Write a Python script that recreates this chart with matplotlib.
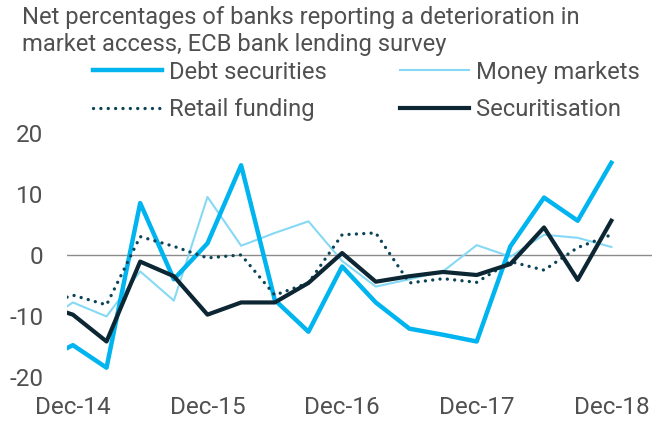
import matplotlib
matplotlib.use("Agg")
import matplotlib.pyplot as plt
import numpy as np

# Quarterly survey results, Sep-14 .. Dec-18 (net %)
quarters = ["Sep-14", "Dec-14", "Mar-15", "Jun-15", "Sep-15", "Dec-15", "Mar-16", "Jun-16", "Sep-16",
            "Dec-16", "Mar-17", "Jun-17", "Sep-17", "Dec-17", "Mar-18", "Jun-18", "Sep-18", "Dec-18"]
debt_securities = [-17.6, -14.8, -18.5, 8.5, -4.0, 1.9, 14.7, -7.4, -12.6,
                   -1.9, -7.8, -12.1, -13.1, -14.2, 1.4, 9.4, 5.6, 15.1]
money_markets = [-11.5, -7.8, -10.1, -2.7, -7.5, 9.5, 1.5, 3.6, 5.5,
                 -1.0, -5.2, -4.0, -2.7, 1.6, -0.3, 3.3, 2.8, 1.3]
retail_funding = [-8.5, -6.6, -8.2, 3.0, 1.4, -0.5, 0.0, -6.6, -4.6,
                  3.3, 3.6, -4.6, -3.9, -4.5, -1.1, -2.5, 1.2, 3.3]
securitisation = [-8.0, -9.8, -14.2, -1.1, -3.5, -9.8, -7.8, -7.8, -4.6,
                  0.3, -4.4, -3.5, -2.8, -3.3, -1.5, 4.5, -4.1, 5.6]
tick_labels = ["Dec-14", "Dec-15", "Dec-16", "Dec-17", "Dec-18"]

plt.rcParams['font.family'] = ['Roboto', 'DejaVu Sans']
text_col = '#505050'

fig = plt.figure(figsize=(6.55, 4.22), dpi=100)
ax = fig.add_axes([0.102, 0.107, 0.893, 0.578])

x = np.arange(len(quarters))
ax.axhline(0, color='#8c8c8c', linewidth=1.0, zorder=1)
ax.plot(x, debt_securities, color='#00b4ef', linewidth=3.2, label='Debt securities', zorder=3)
ax.plot(x, money_markets, color='#86d9f5', linewidth=1.5, label='Money markets', zorder=2)
ax.plot(x, retail_funding, color='#0b4457', linewidth=2.4, linestyle=(0, (0.01, 2.2)),
        dash_capstyle='round', label='Retail funding', zorder=4)
ax.plot(x, securitisation, color='#0c2633', linewidth=3.0, label='Securitisation', zorder=5)

ax.set_xlim(0.82, 18.2)
ax.set_ylim(-20, 20)
ax.set_yticks([-20, -10, 0, 10, 20])
ax.set_yticklabels(["-20", "-10", "0", "10", "20"])
ax.set_xticks([quarters.index(t) for t in tick_labels])
ax.set_xticklabels(tick_labels)
ax.tick_params(length=0, labelsize=17.5, labelcolor=text_col)
ax.tick_params(axis='x', pad=14)
ax.tick_params(axis='y', pad=17)
for s in ax.spines.values():
    s.set_visible(False)

fig.text(0.033, 0.985, "Net percentages of banks reporting a deterioration in\nmarket access, ECB bank lending survey",
         fontsize=17.1, color=text_col, va='top', ha='left', linespacing=1.22)

# legend: row 1 = debt / money, row 2 = retail / securitisation
h, l = ax.get_legend_handles_labels()
order = [0, 2, 1, 3]
leg = fig.legend([h[i] for i in order], [l[i] for i in order], ncol=2, frameon=False,
                 loc='upper left', bbox_to_anchor=(0.142, 0.856), fontsize=17.1,
                 handlelength=2.9, handletextpad=0.3, columnspacing=3.1, labelspacing=0.6,
                 borderpad=0, borderaxespad=0)
for t in leg.get_texts():
    t.set_color(text_col)

fig.savefig("out.png", dpi=100)
